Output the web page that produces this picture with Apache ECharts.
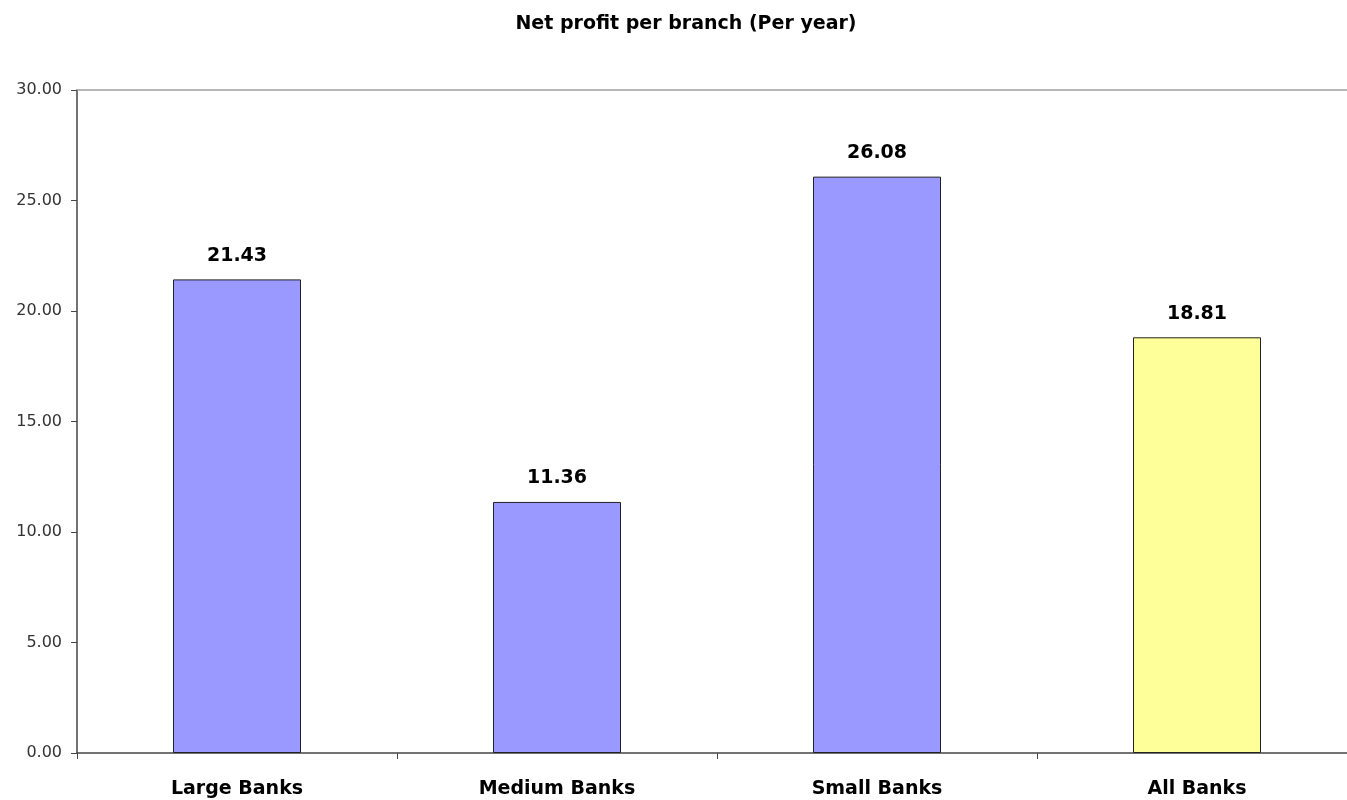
<!DOCTYPE html>
<html>
<head>
<meta charset="utf-8">
<style>
  html, body { margin: 0; padding: 0; background: #fff; }
  #chart { width: 1347px; height: 800px; }
</style>
<script src="https://cdn.jsdelivr.net/npm/echarts@6/dist/echarts.min.js"></script>
</head>
<body>
<div id="chart"></div>
<script>
// Net profit per branch, by bank size group
const categories = ['Large Banks', 'Medium Banks', 'Small Banks', 'All Banks'];
const profitValues = [21.43, 11.36, 26.08, 18.81];
const barColors = ['#9999FF', '#9999FF', '#9999FF', '#FFFF99'];
const yTicks = { min: 0, max: 30, interval: 5 };

const FONT = '"DejaVu Sans", Verdana, sans-serif';

const chart = echarts.init(document.getElementById('chart'));

chart.setOption({
  backgroundColor: '#ffffff',
  animation: false,
  title: {
    text: 'Net profit per branch (Per year)',
    left: 681,
    top: 10,
    textAlign: 'center',
    textStyle: { fontFamily: FONT, fontSize: 19, fontWeight: 'bold', color: '#000' }
  },
  // plot area runs slightly past the right edge of the canvas
  grid: { left: 77, top: 90, width: 1280, height: 663, containLabel: false, outerBoundsMode: 'none' },
  xAxis: [
    {
      type: 'category',
      data: categories,
      boundaryGap: true,
      axisLine: { lineStyle: { color: '#444', width: 1.5 } },
      axisTick: { show: true, length: 6, alignWithLabel: false, lineStyle: { color: '#444' } },
      axisLabel: {
        margin: 27,
        fontFamily: FONT,
        fontSize: 19, fontWeight: 'bold', color: '#000'
      }
    },
    {
      type: 'category',
      data: categories,
      position: 'top',
      axisLine: { show: true, lineStyle: { color: '#a0a0a0', width: 1.5 } },
      axisTick: { show: false },
      axisLabel: { show: false }
    }
  ],
  yAxis: {
    type: 'value',
    min: yTicks.min,
    max: yTicks.max,
    interval: yTicks.interval,
    axisLine: { show: true, lineStyle: { color: '#444', width: 1.5 } },
    axisTick: { show: true, length: 6, lineStyle: { color: '#444' } },
    splitLine: { show: false },
    axisLabel: {
      margin: 15,
      formatter: v => v.toFixed(2),
      fontFamily: FONT,
      fontSize: 16, color: '#333'
    }
  },
  series: [{
    type: 'bar',
    data: profitValues.map((v, i) => ({ value: v, itemStyle: { color: barColors[i] } })),
    barWidth: '40%',
    itemStyle: { borderColor: '#222', borderWidth: 1 },
    label: {
      show: true,
      position: 'top',
      distance: 14,
      formatter: p => p.value.toFixed(2),
      fontFamily: FONT,
      fontSize: 19, fontWeight: 'bold', color: '#000'
    }
  }]
});
</script>
</body>
</html>
